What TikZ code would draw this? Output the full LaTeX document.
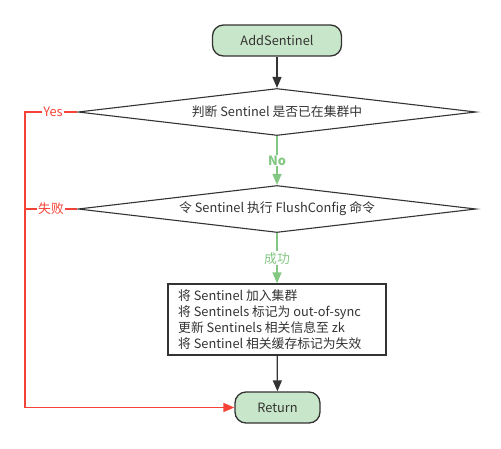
\documentclass[tikz,border=0pt]{standalone}
\usepackage{fontspec}
\setmainfont{Noto Sans CJK SC}
\usetikzlibrary{shapes.geometric,arrows.meta}
\definecolor{txt}{HTML}{333333}
\definecolor{gfill}{HTML}{C8E6C9}
\definecolor{gline}{HTML}{82C882}
\definecolor{rline}{HTML}{F44336}
\tikzset{
  x=1pt,y=-1pt,
  every node/.style={font=\fontsize{12.8pt}{16pt}\selectfont,text=txt},
  term/.style={draw=txt,line width=1.3pt,fill=gfill,rounded corners=11pt,inner sep=0pt},
  dec/.style={draw=txt,line width=1.1pt,diamond,aspect=8.5,inner sep=0pt},
  proc/.style={draw=txt,line width=1.3pt,inner sep=0pt},
  darr/.style={draw=txt,line width=1.3pt,-{Triangle[length=11pt,width=9pt]}},
  garr/.style={draw=gline,line width=1.3pt,-{Triangle[length=11pt,width=9pt]}},
  rarr/.style={draw=rline,line width=1.3pt,-{Triangle[length=11pt,width=9pt]}},
  glab/.style={fill=white,text=gline,inner sep=1pt,font=\fontsize{12.8pt}{14pt}\selectfont\bfseries},
  rlab/.style={fill=white,text=rline,inner sep=1pt},
}
\begin{document}
\begin{tikzpicture}
\useasboundingbox (0,0) rectangle (501,448);
\node[term,minimum width=129pt,minimum height=31pt] (start) at (277,40.5) {AddSentinel};
\node[dec,minimum width=398pt,minimum height=47pt] (d1) at (277,112) {判断 Sentinel 是否已在集群中};
\node[dec,minimum width=398pt,minimum height=47pt] (d2) at (277,209) {令 Sentinel 执行 FlushConfig 命令};
\node[proc,minimum width=218pt,minimum height=71pt] (box) at (277,319.5) {};
\node[anchor=north west,align=left,inner sep=0pt] (boxtxt) at (178,290) {将 Sentinel 加入集群\\将 Sentinels 标记为 out-of-sync\\更新 Sentinels 相关信息至 zk\\将 Sentinel 相关缓存标记为失效};
\node[term,minimum width=85pt,minimum height=31pt] (ret) at (277.5,407.5) {Return};
\coordinate (c1) at (25,112);
\coordinate (c2) at (25,407.5);
\draw[darr] (start) -- (d1);
\draw[garr] (d1) -- node[glab] {No} (d2);
\draw[garr] (d2) -- node[glab,font=\fontsize{12.8pt}{14pt}\selectfont] {成功} (box);
\draw[darr] (box) -- (ret);
\draw[rarr] (d1.west) -- (c1) -- (c2) -- (ret.west);
\draw[draw=rline,line width=1.3pt] (d2.west) -- (25,209);
\node[rlab] (yes) at (53,112) {Yes};
\node[rlab] (fail) at (51,209) {失败};
\end{tikzpicture}
\end{document}
